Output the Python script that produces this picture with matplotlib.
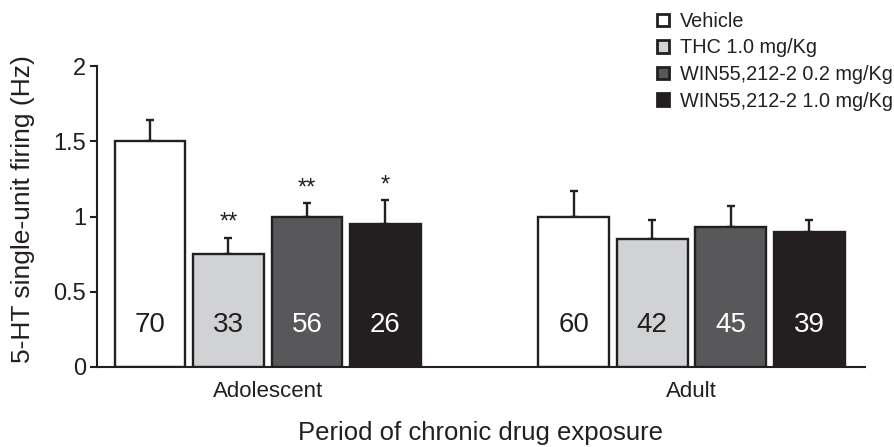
import numpy as np
import matplotlib.pyplot as plt
from matplotlib.patches import Patch

plt.rcParams['font.family'] = ['Liberation Sans', 'DejaVu Sans']

groups = ['Adolescent', 'Adult']
treatments = ['Vehicle', 'THC 1.0 mg/Kg', 'WIN55,212-2 0.2 mg/Kg', 'WIN55,212-2 1.0 mg/Kg']
firing = [[1.50, 0.75, 1.00, 0.95],
          [1.00, 0.85, 0.93, 0.90]]
sem = [[0.14, 0.11, 0.09, 0.16],
       [0.17, 0.13, 0.14, 0.08]]
n_cells = [[70, 33, 56, 26],
           [60, 42, 45, 39]]
stars = [['', '**', '**', '*'],
         ['', '', '', '']]

fill_colors = ['#ffffff', '#d1d2d4', '#58585a', '#231f20']
num_colors = ['#231f20', '#231f20', '#ffffff', '#ffffff']
edge = '#231f20'

group_start = [0.0, 5.4]
bar_w = 0.9

fig = plt.figure(figsize=(8.94, 4.47), dpi=100)
ax = fig.add_axes([0.1085, 0.179, 0.859, 0.673])

for g, x0 in enumerate(group_start):
    xs = x0 + np.arange(len(treatments))
    ax.bar(xs, firing[g], width=bar_w, color=fill_colors, edgecolor=edge,
           linewidth=1.7, zorder=2)
    ax.errorbar(xs, firing[g], yerr=[np.zeros(4), sem[g]], fmt='none',
                ecolor=edge, elinewidth=1.7, capsize=2.8, capthick=1.7, zorder=1)
    for i, x in enumerate(xs):
        ax.text(x, 0.28, str(n_cells[g][i]), ha='center', va='center',
                fontsize=20, color=num_colors[i])
        if stars[g][i]:
            ax.text(x, firing[g][i] + sem[g][i] + 0.025, stars[g][i],
                    ha='center', va='bottom', fontsize=17, color=edge)

ax.set_xlim(-0.675, 9.11)
ax.set_ylim(0, 2)
ax.spines[['top', 'right']].set_visible(False)
for s in ['left', 'bottom']:
    ax.spines[s].set_linewidth(1.5)
    ax.spines[s].set_color(edge)

ax.set_yticks([0, 0.5, 1, 1.5, 2])
ax.set_yticklabels(['0', '0.5', '1', '1.5', '2'])
ax.tick_params(axis='y', length=5, width=1.5, color=edge, labelsize=17,
               labelcolor=edge, pad=3)
ax.set_xticks([g + 1.5 for g in group_start])
ax.set_xticklabels(groups)
ax.tick_params(axis='x', length=0, labelsize=16, labelcolor=edge, pad=10)

fig.text(23 / 894, 0.532, '5-HT single-unit firing (Hz)', rotation=90,
         ha='center', va='center', fontsize=19, color=edge)
fig.text(0.537, 0.031, 'Period of chronic drug exposure', ha='center',
         va='center', fontsize=18.5, color=edge)

handles = [Patch(facecolor=c, edgecolor=edge, linewidth=2.0) for c in fill_colors]
fig.legend(handles, treatments, loc='upper left', bbox_to_anchor=(0.722, 1.0),
           frameon=False, fontsize=14.3, handlelength=0.6, handleheight=0.6,
           handletextpad=0.55, labelspacing=0.38, borderaxespad=0.2,
           labelcolor=edge)

fig.savefig('out.png', dpi=100)
